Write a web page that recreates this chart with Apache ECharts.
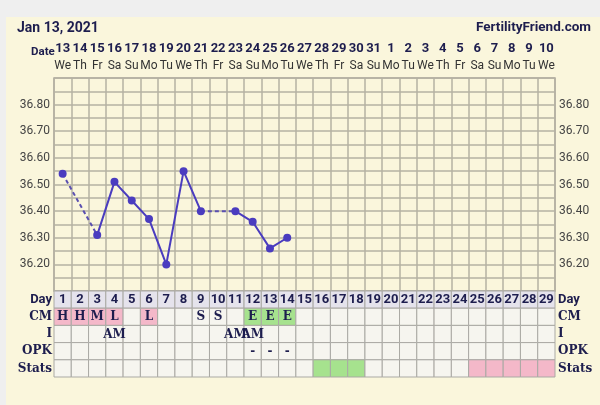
<!DOCTYPE html>
<html><head><meta charset="utf-8">
<script src="https://cdn.jsdelivr.net/npm/echarts@6/dist/echarts.min.js"></script>
<style>html,body{margin:0;padding:0;background:#efefef}#c{width:600px;height:405px}</style>
</head><body><div id="c"></div>
<script>
const dates = ['13','14','15','16','17','18','19','20','21','22','23','24','25','26','27','28','29','30','31','1','2','3','4','5','6','7','8','9','10'];
const weekdays = ['We','Th','Fr','Sa','Su','Mo','Tu','We','Th','Fr','Sa','Su','Mo','Tu','We','Th','Fr','Sa','Su','Mo','Tu','We','Th','Fr','Sa','Su','Mo','Tu','We'];
const cycleDays = ['1','2','3','4','5','6','7','8','9','10','11','12','13','14','15','16','17','18','19','20','21','22','23','24','25','26','27','28','29'];
const temps = [36.54,null,36.31,36.51,36.44,36.37,36.20,36.55,36.40,null,36.40,36.36,36.26,36.30,null,null,null,null,null,null,null,null,null,null,null,null,null,null,null];
const tempTicks = [36.20,36.30,36.40,36.50,36.60,36.70,36.80];
const rowNames = ['Day','CM','I','OPK','Stats'];
const cmCodes = ['H','H','M','L','','L','','','S','S','','E','E','E','','','','','','','','','','','','','','',''];
const intercourse = ['','','','AM','','','','','','','AM','AM','','','','','','','','','','','','','','','','',''];
const opk = ['','','','','','','','','','','','-','-','-','','','','','','','','','','','','','','',''];
const stats = ['','','','','','','','','','','','','','','','fertile','fertile','fertile','','','','','','','luteal','luteal','luteal','luteal','luteal'];

const NAVY = '#1d1d4e';
const cmFill = {H:'#f4b8c9', M:'#f4b8c9', L:'#f4b8c9', E:'#a6e28e'};
const statFill = {fertile:'#a6e28e', luteal:'#f4b8c9'};

// solid line uses temps with gaps; dashed bridges across missing days
const dashedSeries = [];
temps.forEach((v, i) => {
  if (v === null && i > 0 && temps[i-1] !== null) {
    let j = i + 1;
    while (j < temps.length && temps[j] === null) j++;
    if (j < temps.length) dashedSeries.push([[i-1, temps[i-1]], [j, temps[j]]]);
  }
});

const cells = [];
cycleDays.forEach((d, i) => {
  cells.push([i, 0, d, 'day']);
  cells.push([i, 1, cmCodes[i], cmFill[cmCodes[i]] || '']);
  cells.push([i, 2, intercourse[i], '']);
  cells.push([i, 3, opk[i], '']);
  cells.push([i, 4, '', statFill[stats[i]] || '']);
});

const chart = echarts.init(document.getElementById('c'), null, {renderer:'canvas'});
const rowLabelRich = {
  s:{fontFamily:'Roboto', fontWeight:'bold', fontSize:13, color:NAVY},
  f:{fontFamily:'DejaVu Serif', fontWeight:'bold', fontSize:12, color:NAVY}
};
const rowFmt = v => v === 'Day' ? '{s|Day}' : '{f|' + v + '}';
const tempFmt = v => {
  const r = Math.round(v*100);
  return (r % 10 === 0 && r >= 3620 && r <= 3680) ? (r/100).toFixed(2) : '';
};
chart.setOption({
  animation:false,
  backgroundColor:'#efefef',
  graphic:[{type:'rect', z:-10, shape:{x:6, y:17, width:594, height:388}, style:{fill:'#faf6dc'}}],
  title:[
    {text:'Jan 13, 2021', left:12, top:16, textStyle:{fontFamily:'Roboto', fontWeight:'bold', fontSize:14, color:NAVY}},
    {text:'FertilityFriend.com', right:4, top:16, textStyle:{fontFamily:'Roboto', fontWeight:'bold', fontSize:13.5, color:NAVY}},
    {text:'Date', left:26, top:41, textStyle:{fontFamily:'Roboto', fontWeight:'bold', fontSize:11.5, color:NAVY}}
  ],
  grid:[
    {left:54, right:45, top:78, height:213, show:true, borderColor:'#aeab9c', borderWidth:1.5, backgroundColor:'transparent'},
    {left:54, right:45, top:291, height:86}
  ],
  xAxis:[
    {type:'category', gridIndex:0, position:'top', data:dates, boundaryGap:true,
     axisLine:{show:false}, axisTick:{show:false},
     splitLine:{show:true, interval:0, lineStyle:{color:'#b5b2a3', width:1.5}},
     axisLabel:{interval:0, margin:4, formatter:(v, i) => '{d|' + v + '}\n{w|' + weekdays[i] + '}',
       rich:{d:{fontFamily:'Roboto', fontWeight:'bold', fontSize:13, color:NAVY, lineHeight:17},
             w:{fontFamily:'Roboto', fontSize:12, color:'#333', lineHeight:17}}}},
    {type:'category', gridIndex:1, data:cycleDays, show:false}
  ],
  yAxis:[
    {type:'value', gridIndex:0, min:36.10, max:36.90, interval:0.05, position:'left',
     axisLine:{show:false}, axisTick:{show:false},
     splitLine:{show:true, lineStyle:{color:'#b5b2a3', width:1.5}},
     axisLabel:{margin:4, formatter:tempFmt, fontFamily:'Roboto', fontSize:12, color:'#444'}},
    {type:'value', gridIndex:0, min:36.10, max:36.90, interval:0.05, position:'right',
     axisLine:{show:false}, axisTick:{show:false}, splitLine:{show:false},
     axisLabel:{margin:4, formatter:tempFmt, fontFamily:'Roboto', fontSize:12, color:'#444'}},
    {type:'category', gridIndex:1, data:rowNames, inverse:true, position:'left',
     axisLine:{show:false}, axisTick:{show:false},
     axisLabel:{margin:2, formatter:rowFmt, rich:rowLabelRich}},
    {type:'category', gridIndex:1, data:rowNames, inverse:true, position:'right',
     axisLine:{show:false}, axisTick:{show:false},
     axisLabel:{margin:3, formatter:rowFmt, rich:rowLabelRich}}
  ],
  series:[
    {type:'line', xAxisIndex:0, yAxisIndex:0, data:temps, connectNulls:false,
     symbol:'circle', symbolSize:8, z:5,
     lineStyle:{color:'#4a3cbf', width:2}, itemStyle:{color:'#4a3cbf'}},
    ...dashedSeries.map(seg => ({type:'line', xAxisIndex:0, yAxisIndex:0, data:seg, symbol:'none', z:4,
      lineStyle:{color:'#5a4fb0', width:2, type:[4,3]}})),
    {type:'custom', xAxisIndex:1, yAxisIndex:2, data:cells,
     renderItem:(params, api) => {
       const c = cells[params.dataIndex];
       const p = api.coord([api.value(0), api.value(1)]);
       const s = api.size([1,1]);
       const isDay = c[3] === 'day';
       const fill = isDay ? '#e5e3ec' : (c[3] || '#f6f5ef');
       const children = [{type:'rect', shape:{x:p[0]-s[0]/2, y:p[1]-s[1]/2, width:s[0], height:s[1]},
         style:{fill:fill, stroke:'#aaa9a4', lineWidth:1}}];
       if (c[2]) children.push({type:'text', z2:10, style:{text:c[2], x:p[0], y:p[1]+0.5, align:'center', verticalAlign:'middle',
         fill:NAVY, font: isDay ? 'bold 13px Roboto' : 'bold 12px "DejaVu Serif"'}});
       return {type:'group', children};
     }}
  ]
});
</script></body></html>
